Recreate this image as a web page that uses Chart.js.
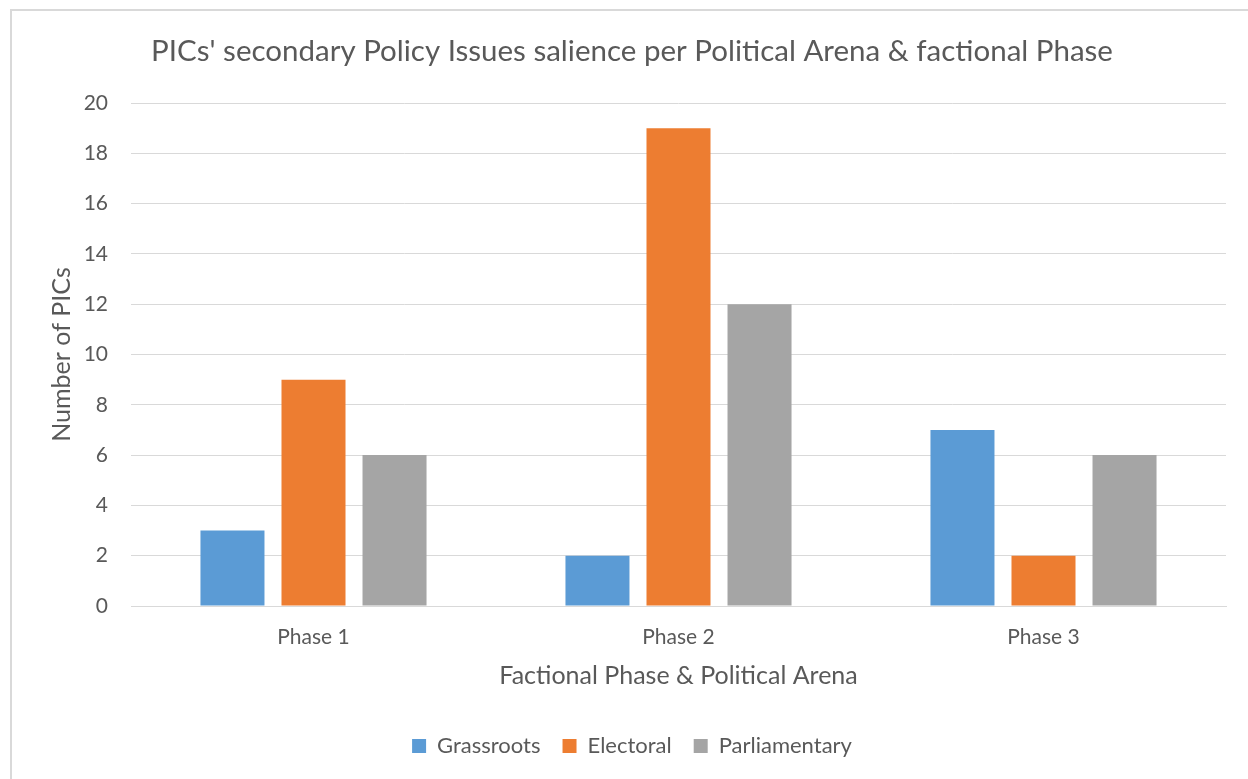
<!DOCTYPE html>
<html>
<head>
<meta charset="utf-8">
<script src="https://cdn.jsdelivr.net/npm/chart.js@4/dist/chart.umd.min.js"></script>
<style>
  html, body { margin: 0; padding: 0; background: #fff; }
  #wrap { position: relative; width: 1248px; height: 779px; overflow: hidden; }
  #frame { position: absolute; left: 10px; top: 9px; width: 1260px; height: 800px; border: 2px solid #d9d9d9; box-sizing: border-box; }
  canvas { position: absolute; left: 0; top: 0; }
</style>
</head>
<body>
<div id="wrap">
  <div id="frame"></div>
  <canvas id="c" width="1248" height="779"></canvas>
</div>
<script>
const categories = ["Phase 1", "Phase 2", "Phase 3"];
const grassroots = [3, 2, 7];
const electoral = [9, 19, 2];
const parliamentary = [6, 12, 6];
const seriesNames = ["Grassroots", "Electoral", "Parliamentary"];
const yTicks = [0, 2, 4, 6, 8, 10, 12, 14, 16, 18, 20];

const FONT = "Lato, 'Open Sans', sans-serif";
const TXT = "#595959";

new Chart(document.getElementById("c"), {
  type: "bar",
  data: {
    labels: categories,
    datasets: [
      { label: seriesNames[0], data: grassroots, backgroundColor: "#5B9BD5" },
      { label: seriesNames[1], data: electoral, backgroundColor: "#ED7D31" },
      { label: seriesNames[2], data: parliamentary, backgroundColor: "#A5A5A5" }
    ]
  },
  options: {
    responsive: false,
    animation: false,
    devicePixelRatio: 1,
    layout: { padding: { left: 38, right: 22, top: 0, bottom: 12 } },
    datasets: { bar: { categoryPercentage: 0.666, barPercentage: 0.79 } },
    plugins: {
      title: {
        display: true,
        text: "PICs' secondary Policy Issues salience per Political Arena & factional Phase",
        color: TXT,
        font: { family: FONT, size: 29.5, weight: "normal" },
        padding: { top: 34, bottom: 33.6 }
      },
      legend: {
        position: "bottom",
        labels: {
          color: TXT,
          font: { family: FONT, size: 22 },
          boxWidth: 14, boxHeight: 14, padding: 22
        }
      },
      tooltip: { enabled: false }
    },
    scales: {
      x: {
        grid: { display: false, drawTicks: false },
        border: { display: true, color: "#d9d9d9", width: 1 },
        ticks: { color: TXT, font: { family: FONT, size: 21 }, padding: 19 },
        title: {
          display: true, text: "Factional Phase & Political Arena", color: TXT,
          font: { family: FONT, size: 25 }, padding: { top: 0, bottom: 22 }
        },
        afterFit: s => { s.height = 107; }
      },
      y: {
        min: 0, max: 20,
        afterBuildTicks: s => { s.ticks = yTicks.map(v => ({ value: v })); },
        grid: { color: "#d9d9d9", lineWidth: 1, drawTicks: false },
        border: { display: false },
        ticks: { color: TXT, font: { family: FONT, size: 21 }, padding: 23 },
        title: {
          display: true, text: "Number of PICs", color: TXT,
          font: { family: FONT, size: 25 }, padding: { top: 9, bottom: 0 }
        },
        afterFit: s => { s.width = 93; }
      }
    }
  }
});
</script>
</body>
</html>
